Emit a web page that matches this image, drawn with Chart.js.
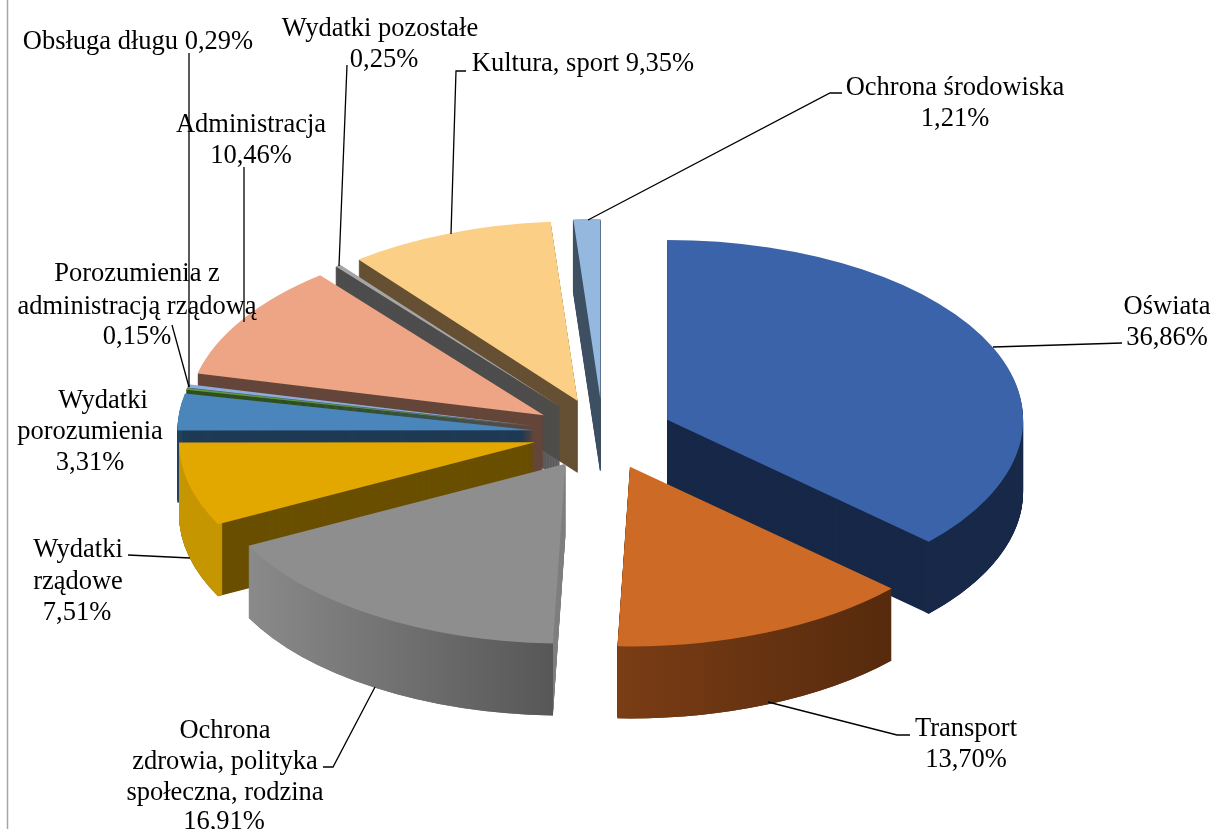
<!DOCTYPE html>
<html lang="pl">
<head>
<meta charset="utf-8">
<title>Struktura wydatków</title>
<style>
html,body{margin:0;padding:0;background:#fff}
canvas{display:block}
</style>
<script src="https://cdn.jsdelivr.net/npm/chart.js@4"></script>
</head>
<body>
<canvas id="c" width="1213" height="829"></canvas>
<script>
const categories = ['Oświata','Transport','Ochrona zdrowia, polityka społeczna, rodzina','Wydatki rządowe','Wydatki porozumienia','Porozumienia z administracją rządową','Obsługa długu','Administracja','Wydatki pozostałe','Kultura, sport','Ochrona środowiska'];
const shares = [36.86,13.70,16.91,7.51,3.31,0.15,0.29,10.46,0.25,9.35,1.21];

const topColors = ['#3B63AA','#CD6B26','#8E8E8E','#E2A800','#4A86BB','#5B9B3F','#8FAADC','#EDA585','#A5A5A5','#FBCF85','#95B8DF'];
const cutColors = ['#172848','#5A2C0E','#7F7F7F','#6A4F00','#1F3A54','#2F4F1C','#4A5A80','#64463A','#4D4D4D','#665033','#3F5063'];
const wallStart = ['#172848','#7A3D15','#8A8A8A','#C59600','#2A5580','#375623','#5A6A90','#7A5040','#555555','#7A6040','#4A6078'];
const wallEnd   = ['#172848','#562A0D','#575757','#C59600','#2A5580','#375623','#5A6A90','#7A5040','#555555','#7A6040','#4A6078'];
const paintOrder = [10,9,8,7,6,5,4,3,2,0,1];
const outlinedWalls = [8,10];

const labelLines = [
  {t:'Oświata',x:1167,y:307},{t:'36,86%',x:1167,y:338},
  {t:'Transport',x:966,y:729},{t:'13,70%',x:966,y:760},
  {t:'Ochrona',x:225,y:731},{t:'zdrowia, polityka',x:225,y:762},{t:'społeczna, rodzina',x:225,y:793},{t:'16,91%',x:224,y:822},
  {t:'Wydatki',x:78,y:550},{t:'rządowe',x:78,y:582},{t:'7,51%',x:77,y:613},
  {t:'Wydatki',x:103,y:401},{t:'porozumienia',x:90,y:432},{t:'3,31%',x:90,y:463},
  {t:'Porozumienia z',x:137,y:274},{t:'administracją rządową',x:137,y:307},{t:'0,15%',x:137,y:337},
  {t:'Obsługa długu 0,29%',x:138,y:42},
  {t:'Administracja',x:251,y:125},{t:'10,46%',x:251,y:156},
  {t:'Wydatki pozostałe',x:380,y:29},{t:'0,25%',x:384,y:60},
  {t:'Kultura, sport 9,35%',x:583,y:64},
  {t:'Ochrona środowiska',x:955,y:88},{t:'1,21%',x:955,y:119}
];
const leaders = [
  [[1122,343],[993,347]],
  [[910,735],[897,735],[768,702]],
  [[323,767],[333,767],[375,687]],
  [[128,555],[190,558]],
  [[172,325],[189,387]],
  [[189,53],[189,387]],
  [[244,167],[244,322]],
  [[347,65],[339,266]],
  [[466,71],[456,71],[451,234]],
  [[842,93],[830,93],[588,220]]
];

const EXPLODE = 70, DEPTH = 72, SQUASH = 0.505;

const pie3d = {
  id:'pie3d',
  beforeDatasetDraw(chart){
    const ctx = chart.ctx, arcs = chart.getDatasetMeta(0).data;
    const drawWith = (arc, style, dy, patch) => {
      const saved = {opt:arc.options, s:arc.startAngle, e:arc.endAngle, c:arc.circumference, i:arc.innerRadius};
      arc.options = Object.assign({}, saved.opt, style);
      if (patch) Object.assign(arc, patch);
      const mid = (saved.s + saved.e) / 2;
      ctx.save();
      ctx.translate(arc.x, arc.y + dy);
      ctx.scale(1, SQUASH);
      ctx.translate(-arc.x, -arc.y);
      ctx.translate(Math.cos(mid) * EXPLODE, Math.sin(mid) * EXPLODE);
      arc.draw(ctx);
      ctx.restore();
      arc.options = saved.opt; arc.startAngle = saved.s; arc.endAngle = saved.e; arc.circumference = saved.c; arc.innerRadius = saved.i;
    };
    paintOrder.forEach(i => {
      const arc = arcs[i];
      const cut = {backgroundColor:cutColors[i], borderColor:cutColors[i], borderWidth:outlinedWalls.includes(i) ? 1 : 0, borderAlign:'center'};
      for (let d = DEPTH; d > 0; d--) drawWith(arc, cut, d);
      const a1 = Math.max(0, arc.startAngle), a2 = Math.min(Math.PI, arc.endAngle);
      if (a2 > a1) {
        const x1 = arc.x + arc.outerRadius * Math.cos(a2), x2 = arc.x + arc.outerRadius * Math.cos(a1);
        const g = ctx.createLinearGradient(x1, 0, x2, 0);
        g.addColorStop(0, wallStart[i]); g.addColorStop(1, wallEnd[i]);
        const patch = {startAngle:a1, endAngle:a2, circumference:a2 - a1, innerRadius:arc.outerRadius - 5};
        for (let d = DEPTH; d > 0; d--) drawWith(arc, {backgroundColor:g}, d, patch);
      }
      drawWith(arc, {backgroundColor:topColors[i]}, 0);
    });
    return false;
  },
  afterDraw(chart){
    const ctx = chart.ctx;
    ctx.save();
    ctx.strokeStyle = '#A6A6A6'; ctx.lineWidth = 1.5;
    ctx.beginPath(); ctx.moveTo(7.5,0); ctx.lineTo(7.5,829); ctx.stroke();
    ctx.strokeStyle = '#000'; ctx.lineWidth = 1.3;
    leaders.forEach(p => {
      ctx.beginPath();
      p.forEach((q,k) => k ? ctx.lineTo(q[0],q[1]) : ctx.moveTo(q[0],q[1]));
      ctx.stroke();
    });
    ctx.fillStyle = '#000';
    ctx.font = '26.5px "Liberation Serif"';
    ctx.textAlign = 'center'; ctx.textBaseline = 'middle';
    labelLines.forEach(l => ctx.fillText(l.t, l.x, l.y));
    ctx.restore();
  }
};

new Chart(document.getElementById('c'), {
  type:'pie',
  data:{labels:categories, datasets:[{data:shares, backgroundColor:topColors, borderWidth:0}]},
  options:{
    responsive:false, animation:false, devicePixelRatio:1,
    radius:356,
    layout:{padding:{left:0,right:7,top:39,bottom:0}},
    plugins:{legend:{display:false},tooltip:{enabled:false},title:{display:false}}
  },
  plugins:[pie3d]
});
</script>
</body>
</html>
